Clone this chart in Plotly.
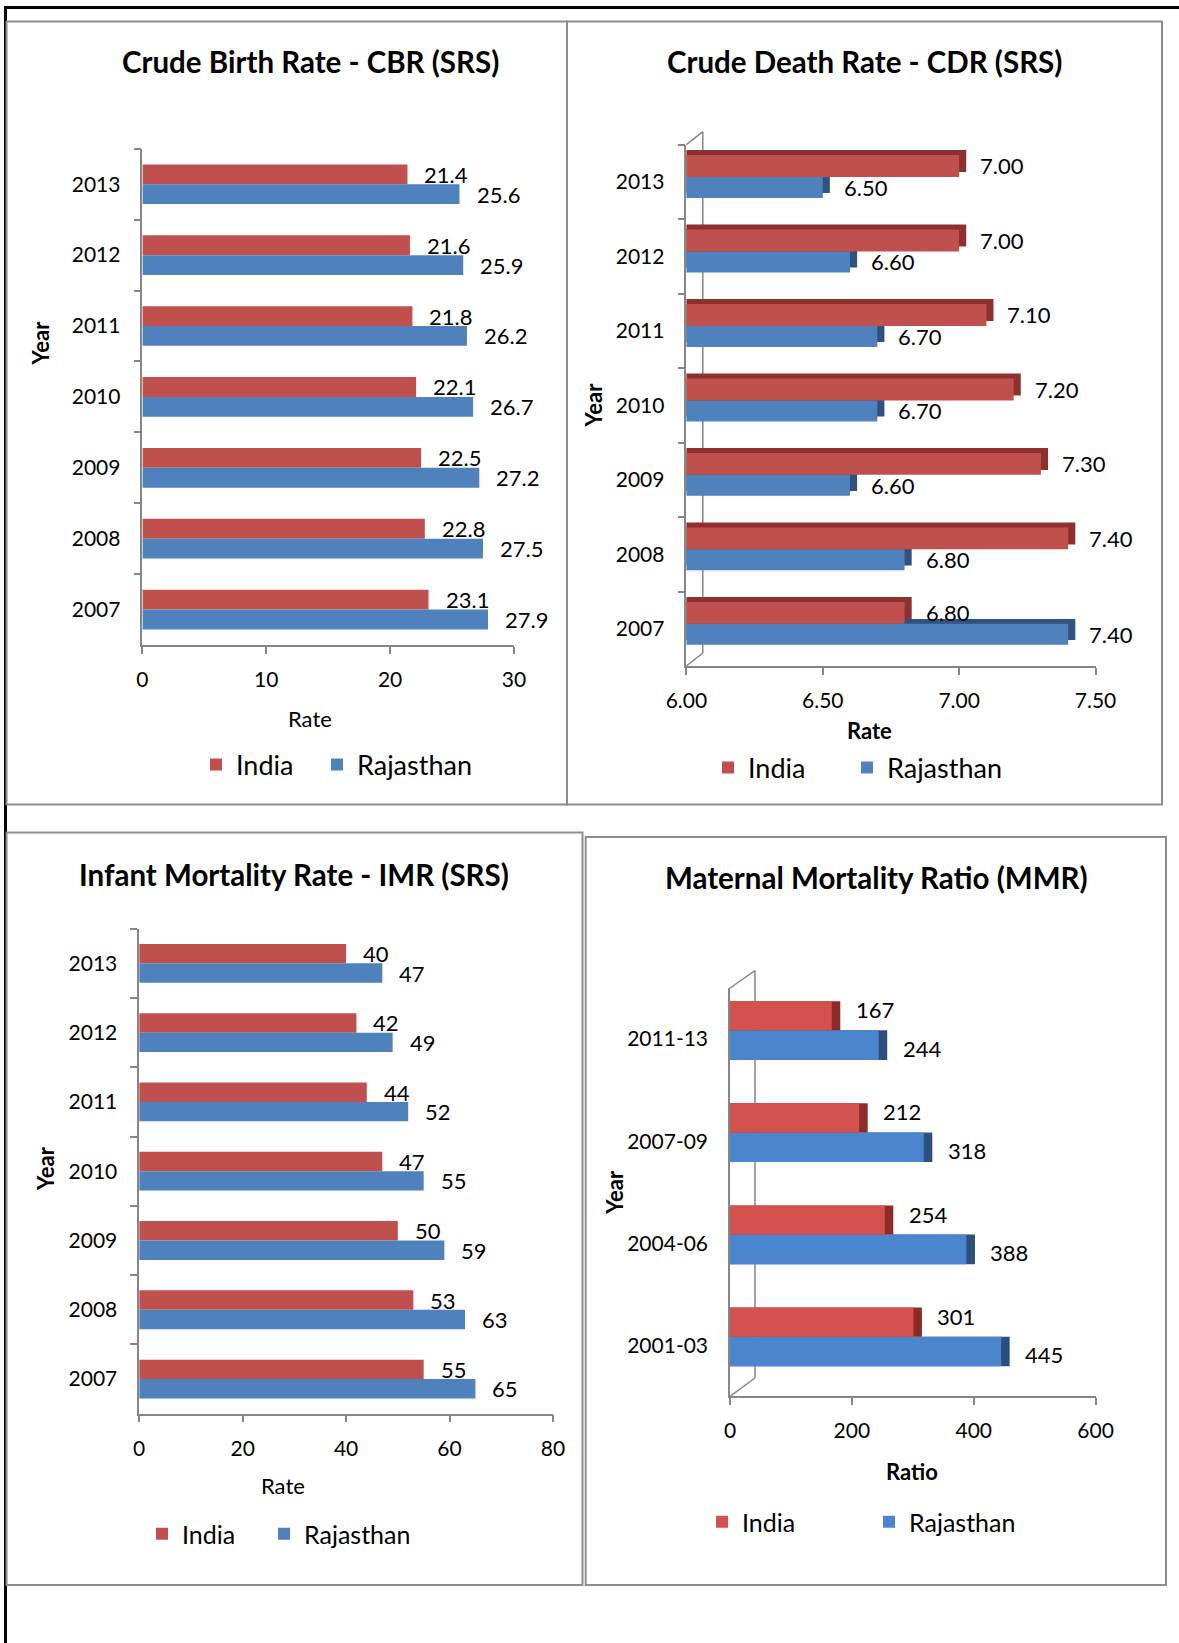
import plotly.graph_objects as go

W, H = 1179, 1643
FONT = "Lato"

# ---------------- data ----------------
YEARS = ["2013", "2012", "2011", "2010", "2009", "2008", "2007"]
CBR_INDIA = [21.4, 21.6, 21.8, 22.1, 22.5, 22.8, 23.1]
CBR_RAJ = [25.6, 25.9, 26.2, 26.7, 27.2, 27.5, 27.9]

CDR_INDIA = [7.00, 7.00, 7.10, 7.20, 7.30, 7.40, 6.80]
CDR_RAJ = [6.50, 6.60, 6.70, 6.70, 6.60, 6.80, 7.40]

IMR_INDIA = [40, 42, 44, 47, 50, 53, 55]
IMR_RAJ = [47, 49, 52, 55, 59, 63, 65]

MMR_PERIODS = ["2011-13", "2007-09", "2004-06", "2001-03"]
MMR_INDIA = [167, 212, 254, 301]
MMR_RAJ = [244, 318, 388, 445]

SERIES = ["India", "Rajasthan"]

# ---------------- style ----------------
RED, BLUE = "#C0504D", "#4F81BD"
RED_DEPTH, BLUE_DEPTH = "#8E312E", "#2F527E"
RED_CYL, BLUE_CYL = "#D4524E", "#4A85CD"
RED_CAP, BLUE_CAP = "#8C2B28", "#2C4F80"
AXIS = "#868686"
FRAME = "#8C8C8C"


def fx(p):
    return p / W


def fy(p):
    return 1 - p / H


fig = go.Figure()
annotations = []
shapes = []


def label(xa, ya, x, y, text, xshift, yshift=0):
    annotations.append(dict(xref=xa, yref=ya, x=x, y=y, text=text, showarrow=False,
                            xanchor="left", yanchor="middle", xshift=xshift, yshift=yshift,
                            font=dict(family=FONT, size=22, color="black")))


# ---------- flat grouped bars (CBR, IMR) ----------
def grouped(xa, ya, cats, india, raj, lgs, fmt, xshift):
    for name, vals, col, lg in ((SERIES[0], india, RED, lgs[0]), (SERIES[1], raj, BLUE, lgs[1])):
        fig.add_trace(go.Bar(x=vals, y=cats, orientation="h", name=name,
                             marker=dict(color=col, line=dict(width=0)),
                             xaxis=xa, yaxis=ya, legend=lg, hoverinfo="skip"))
    for i, (a, b) in enumerate(zip(india, raj)):
        label(xa, ya, a, i - 0.14, fmt(a), xshift)
        label(xa, ya, b, i + 0.14, fmt(b), xshift)


# ---------- bars with a depth face (CDR, MMR) ----------
def solid(xa, ya, cats, india, raj, lgs, cols, dcols, offs, widths, dx, dy):
    data = [india, raj]
    for k in (1, 0):
        vals = data[k]
        fig.add_trace(go.Bar(x=[v + dx for v in vals], y=cats, orientation="h",
                             offset=offs[k] - dy, width=widths[k],
                             marker=dict(color=dcols[k], line=dict(width=0)),
                             xaxis=xa, yaxis=ya, showlegend=False, hoverinfo="skip"))
        fig.add_trace(go.Bar(x=vals, y=cats, orientation="h", name=SERIES[k],
                             offset=offs[k], width=widths[k],
                             marker=dict(color=cols[k], line=dict(width=0)),
                             xaxis=xa, yaxis=ya, legend=lgs[k], hoverinfo="skip"))


grouped("x", "y", YEARS, CBR_INDIA, CBR_RAJ, ("legend", "legend2"), lambda v: f"{v:.1f}", 15)
grouped("x3", "y3", YEARS, IMR_INDIA, IMR_RAJ, ("legend5", "legend6"), lambda v: f"{v:d}", 15)

CDR_OFFS, CDR_W = (-0.36, -0.066), (0.294, 0.282)
solid("x2", "y2", YEARS, CDR_INDIA, CDR_RAJ, ("legend3", "legend4"), (RED, BLUE), (RED_DEPTH, BLUE_DEPTH),
      CDR_OFFS, CDR_W, 0.026, 0.066)
for i, (a, b) in enumerate(zip(CDR_INDIA, CDR_RAJ)):
    label("x2", "y2", a, i + CDR_OFFS[0] + CDR_W[0] / 2, f"{a:.2f}", 19)
    label("x2", "y2", b, i + CDR_OFFS[1] + CDR_W[1] / 2, f"{b:.2f}", 19)

MMR_OFFS, MMR_W = (-0.37, -0.085), (0.285, 0.29)
solid("x4", "y4", MMR_PERIODS, MMR_INDIA, MMR_RAJ, ("legend7", "legend8"), (RED_CYL, BLUE_CYL),
      (RED_CAP, BLUE_CAP), MMR_OFFS, MMR_W, 14, 0)
for i, (a, b) in enumerate(zip(MMR_INDIA, MMR_RAJ)):
    label("x4", "y4", a, i + MMR_OFFS[0] + MMR_W[0] / 2, str(a), 22, 6)
    label("x4", "y4", b, i + MMR_OFFS[1] + MMR_W[1] / 2, str(b), 22, -3)


# ---------------- axes ----------------
def xaxis(l, r, rng, dtick, fmt, anchor):
    return dict(domain=[fx(l), fx(r)], range=rng, tick0=rng[0], dtick=dtick, tickformat=fmt,
                anchor=anchor, showgrid=False, zeroline=False, showline=True, automargin=False,
                linecolor=AXIS, linewidth=1.5, ticks="outside", ticklen=7, tickcolor=AXIS,
                tickwidth=1.5, ticklabelstandoff=8, fixedrange=True,
                tickfont=dict(family=FONT, size=21, color="black"))


def yaxis(top, bottom, anchor, ticks="outside"):
    return dict(domain=[fy(bottom), fy(top)], type="category", autorange="reversed",
                anchor=anchor, showgrid=False, zeroline=False, showline=True, automargin=False,
                linecolor=AXIS, linewidth=1.5, ticks=ticks, tickson="boundaries", ticklen=7,
                tickcolor=AXIS, tickwidth=1.5, ticklabelstandoff=16, fixedrange=True,
                tickfont=dict(family=FONT, size=21, color="black"))


layout_axes = dict(
    xaxis=xaxis(142.4, 514, [0, 30], 10, "d", "y"),
    yaxis=yaxis(148.8, 645, "x"),
    xaxis2=xaxis(686.4, 1095.5, [6.0, 7.5], 0.5, ".2f", "y2"),
    yaxis2=yaxis(144.6, 666, "x2"),
    xaxis3=xaxis(139.2, 553, [0, 80], 20, "d", "y3"),
    yaxis3=yaxis(928.7, 1413.7, "x3"),
    xaxis4=xaxis(730, 1095.6, [0, 600], 200, "d", "y4"),
    yaxis4=yaxis(988, 1396.4, "x4", ticks=""),
)


# ---------------- text ----------------
def text(x, y, t, size, bold=False, angle=0):
    annotations.append(dict(xref="paper", yref="paper", x=fx(x), y=fy(y), text=f"<b>{t}</b>" if bold else t,
                            showarrow=False, xanchor="center", yanchor="middle", textangle=angle,
                            font=dict(family=FONT, size=size, color="black")))


TITLE_SIZE = 29.5
text(310.8, 62, "Crude Birth Rate - CBR (SRS)", TITLE_SIZE, True)
text(864.5, 62, "Crude Death Rate - CDR (SRS)", TITLE_SIZE, True)
text(294.4, 874, "Infant Mortality Rate - IMR (SRS)", TITLE_SIZE, True)
text(876, 877.7, "Maternal Mortality Ratio (MMR)", TITLE_SIZE, True)

text(40, 343.5, "Year", 22, True, -90)
text(310, 718, "Rate", 22)
text(593, 405.5, "Year", 22, True, -90)
text(869.4, 731, "Rate", 22, True)
text(45, 1169, "Year", 22, True, -90)
text(283, 1485, "Rate", 22)
text(615, 1192.7, "Year", 22, True, -90)
text(912.3, 1471, "Ratio", 22, True)


# ---------------- legends (one entry each, placed like the original) ----------------
def legend(x, y, size):
    return dict(orientation="h", x=fx(x - 14), xanchor="left", y=fy(y), yanchor="middle",
                font=dict(family=FONT, size=size, color="black"), bgcolor="rgba(0,0,0,0)",
                itemwidth=30, itemclick=False, itemdoubleclick=False)


legends = dict(
    legend=legend(210, 765, 27), legend2=legend(331, 765, 27),
    legend3=legend(722, 768, 27), legend4=legend(861, 768, 27),
    legend5=legend(156, 1534, 25), legend6=legend(278, 1534, 25),
    legend7=legend(716, 1522, 25), legend8=legend(883, 1522, 25),
)


# ---------------- frames ----------------
def line(x0, y0, x1, y1, color, width, layer="above"):
    shapes.append(dict(type="line", xref="paper", yref="paper", x0=fx(x0), y0=fy(y0), x1=fx(x1), y1=fy(y1),
                       line=dict(color=color, width=width), layer=layer))


def box(x0, y0, x1, y1):
    shapes.append(dict(type="rect", xref="paper", yref="paper", x0=fx(x0), y0=fy(y0), x1=fx(x1), y1=fy(y1),
                       line=dict(color=FRAME, width=2), fillcolor="rgba(0,0,0,0)"))


line(4, 7.5, 1179, 7.5, "black", 3)
line(5.5, 7.5, 5.5, 1643, "black", 3)
box(6.5, 21.5, 567, 804.5)
box(567, 21.5, 1162, 804.5)
box(6.5, 832.5, 582.5, 1585)
box(585.7, 837, 1166, 1585)

# 3-D walls
line(702.8, 131.7, 702.8, 653, AXIS, 1.5, "below")
line(686.4, 144.6, 702.8, 131.7, AXIS, 1.5, "below")
line(686.4, 666, 702.8, 653, AXIS, 1.5, "below")
line(755, 970.7, 755, 1378, AXIS, 1.5, "below")
line(730, 988, 755, 970.7, AXIS, 1.5, "below")
line(730, 1396.4, 755, 1378, AXIS, 1.5, "below")

fig.update_layout(
    width=W, height=H, margin=dict(l=0, r=0, t=0, b=0, pad=0, autoexpand=False),
    paper_bgcolor="white", plot_bgcolor="rgba(0,0,0,0)",
    barmode="group", bargap=0.44, bargroupgap=0,
    showlegend=True,
    annotations=annotations, shapes=shapes,
    font=dict(family=FONT, color="black"),
    **legends,
    **layout_axes,
)

fig.write_html("out.html")
